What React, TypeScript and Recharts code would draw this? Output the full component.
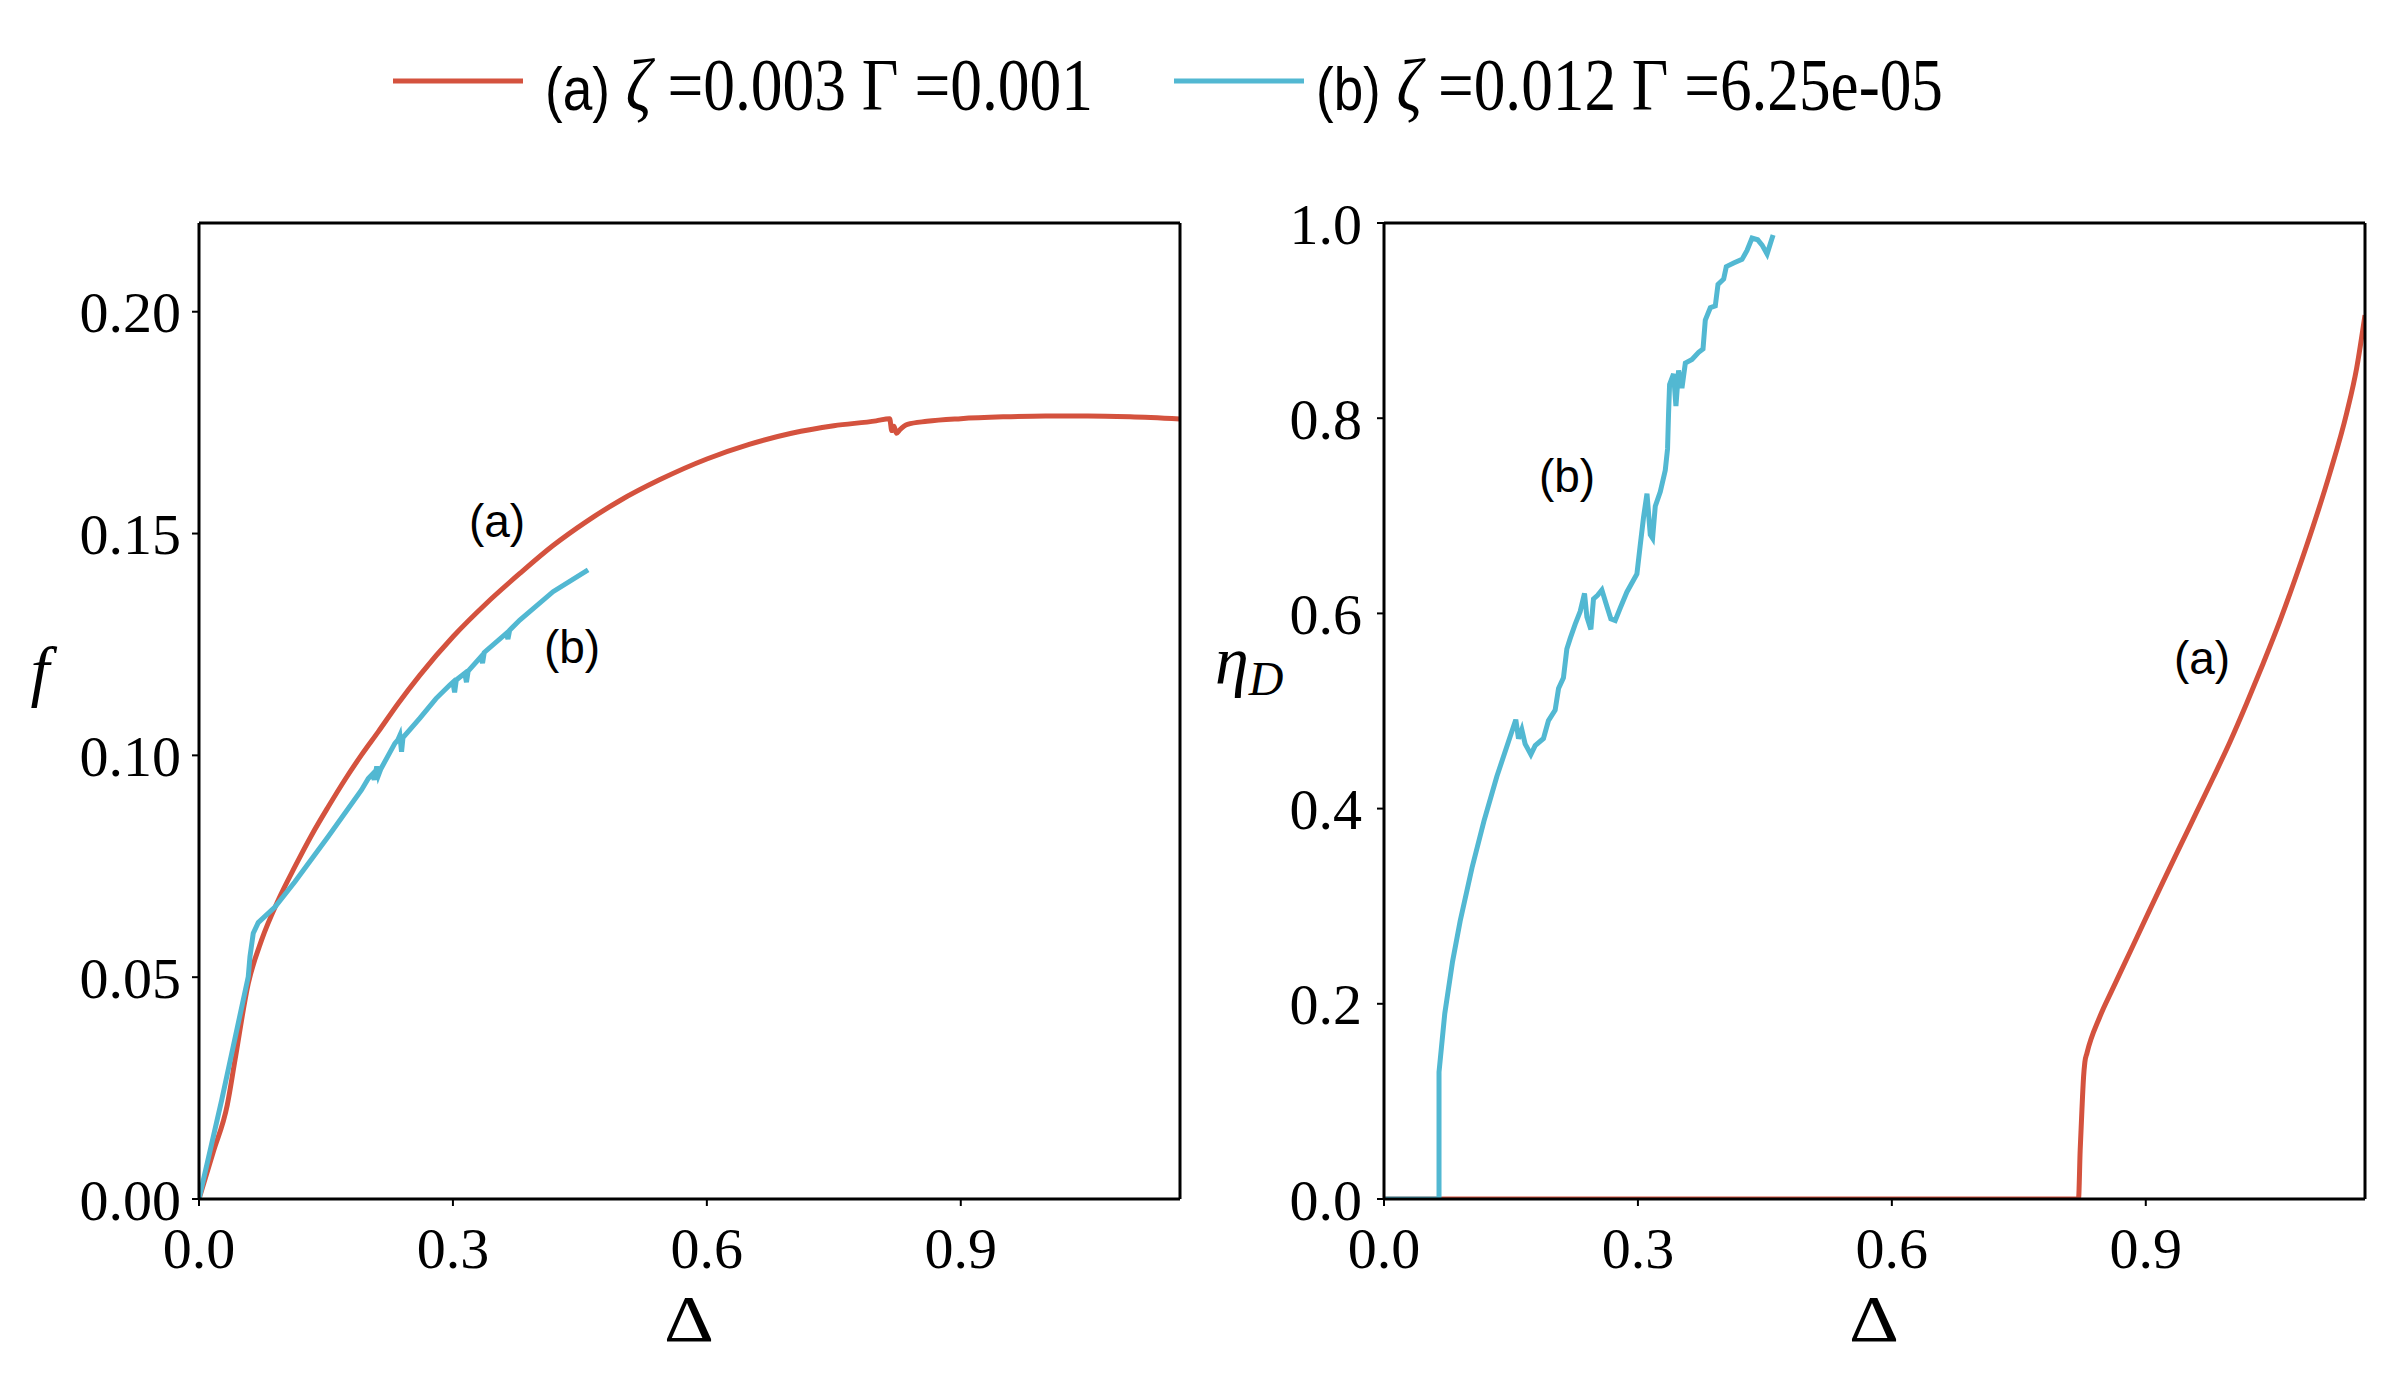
import React from "react";
import { LineChart, Line, XAxis, YAxis, ReferenceLine } from "recharts";

// ---- data ----
const xTicks = [0, 0.3, 0.6, 0.9];
const fTicks = [0, 0.05, 0.1, 0.15, 0.2];
const etaTicks = [0, 0.2, 0.4, 0.6, 0.8, 1.0];
const xMax = 1.159;

// left panel, curve (a)
const deltaAf = [0, 0.017, 0.0334, 0.0425, 0.0582, 0.074, 0.0937, 0.1133, 0.133, 0.1527, 0.1724, 0.192, 0.2117, 0.2353, 0.261, 0.3003, 0.3397, 0.379, 0.4183, 0.4577, 0.497, 0.544, 0.6, 0.65, 0.7, 0.75, 0.8, 0.816, 0.8185, 0.821, 0.824, 0.828, 0.837, 0.86, 0.9, 0.95, 1.0, 1.05, 1.1, 1.159];
const fA = [0, 0.0107, 0.0212, 0.0313, 0.0486, 0.0584, 0.0674, 0.0749, 0.082, 0.0884, 0.0945, 0.1001, 0.1053, 0.1117, 0.1181, 0.1268, 0.1343, 0.141, 0.1473, 0.1527, 0.1574, 0.1621, 0.1668, 0.1701, 0.1726, 0.1743, 0.1754, 0.1759, 0.1732, 0.1742, 0.1726, 0.1734, 0.1746, 0.1753, 0.1759, 0.1763, 0.1765, 0.1765, 0.1763, 0.1758];

// left panel, curve (b)
const deltaBf = [0, 0.0268, 0.0582, 0.0602, 0.0641, 0.07, 0.0897, 0.1133, 0.1527, 0.192, 0.2, 0.205, 0.207, 0.21, 0.212, 0.215, 0.2314, 0.235, 0.2373, 0.2393, 0.241, 0.261, 0.28, 0.296, 0.3, 0.302, 0.304, 0.314, 0.316, 0.318, 0.333, 0.335, 0.337, 0.363, 0.365, 0.367, 0.379, 0.4183, 0.4597];
const fB = [0, 0.0223, 0.0501, 0.0546, 0.0599, 0.0623, 0.0658, 0.0715, 0.0817, 0.0922, 0.0948, 0.0958, 0.0945, 0.0975, 0.0955, 0.097, 0.1027, 0.1035, 0.1045, 0.1008, 0.104, 0.1084, 0.1128, 0.1158, 0.1165, 0.1142, 0.117, 0.1185, 0.1165, 0.119, 0.1222, 0.1208, 0.1232, 0.1275, 0.1262, 0.1282, 0.1305, 0.1369, 0.1418];

// right panel, curve (a)
const deltaAeta = [0, 0.8205, 0.8225, 0.8245, 0.8265, 0.828, 0.8305, 0.8456, 0.8614, 0.8811, 0.9008, 0.9205, 0.9402, 0.96, 0.9796, 0.9993, 1.019, 1.0388, 1.0585, 1.0782, 1.0979, 1.1176, 1.1373, 1.1491, 1.159];
const etaA = [0, 0, 0.05, 0.09, 0.125, 0.14, 0.1495, 0.1865, 0.2163, 0.2526, 0.289, 0.3252, 0.3607, 0.3963, 0.4316, 0.468, 0.5074, 0.549, 0.5923, 0.6396, 0.6898, 0.744, 0.8051, 0.8511, 0.9056];

// right panel, curve (b)
const deltaBeta = [0, 0.065, 0.065, 0.0718, 0.081, 0.09, 0.104, 0.118, 0.1333, 0.1557, 0.1589, 0.1628, 0.1667, 0.1735, 0.1786, 0.1884, 0.1943, 0.2022, 0.2062, 0.212, 0.216, 0.22, 0.2259, 0.2318, 0.2369, 0.2397, 0.2444, 0.2475, 0.2523, 0.2574, 0.2633, 0.268, 0.2732, 0.2791, 0.287, 0.2988, 0.3027, 0.3067, 0.3107, 0.3146, 0.3173, 0.3205, 0.3264, 0.3323, 0.335, 0.3362, 0.3374, 0.3421, 0.3449, 0.348, 0.352, 0.356, 0.3639, 0.3717, 0.3769, 0.3796, 0.3855, 0.3914, 0.3946, 0.4013, 0.4044, 0.4131, 0.423, 0.4289, 0.4348, 0.4415, 0.4467, 0.4526, 0.4565, 0.4597];
const etaB = [0, 0, 0.13, 0.19, 0.2434, 0.2848, 0.3394, 0.387, 0.4329, 0.4911, 0.4718, 0.481, 0.4663, 0.4554, 0.4646, 0.4718, 0.4902, 0.5009, 0.523, 0.534, 0.5634, 0.5744, 0.589, 0.602, 0.6205, 0.5963, 0.5836, 0.6148, 0.6185, 0.624, 0.6073, 0.5945, 0.5928, 0.6055, 0.622, 0.6403, 0.6697, 0.6989, 0.7227, 0.6806, 0.677, 0.7098, 0.7245, 0.7467, 0.7685, 0.8051, 0.8345, 0.8454, 0.8124, 0.849, 0.8308, 0.8565, 0.8601, 0.8674, 0.871, 0.9005, 0.9132, 0.915, 0.937, 0.9426, 0.9553, 0.959, 0.9627, 0.9718, 0.9846, 0.9828, 0.9774, 0.9682, 0.979, 0.9877];

const RED = "#d4523e";
const BLUE = "#52b8d2";
const SERIF = "'Liberation Serif', 'DejaVu Serif', serif";
const SANS = "'Liberation Sans', Arial, sans-serif";

const toPoints = (xs: number[], ys: number[]) => xs.map((x, i) => ({ x, y: ys[i] }));

const tickStyle = { fill: "#000", fontSize: 58, fontFamily: SERIF };
const lineStyle = { stroke: "#000", strokeWidth: 3 };
const tickLineStyle = { stroke: "#000", strokeWidth: 2 };

interface PanelProps {
  left: number;
  margin: { top: number; right: number; bottom: number; left: number };
  yDomain: [number, number];
  yTicks: number[];
  yDigits: number;
  yTickMargin: number;
  red: { x: number; y: number }[];
  blue: { x: number; y: number }[];
}

function Panel({ left, margin, yDomain, yTicks, yDigits, yTickMargin, red, blue }: PanelProps) {
  return (
    <div style={{ position: "absolute", left, top: 0, width: 1200, height: 1379 }}>
      <LineChart width={1200} height={1379} margin={margin}>
        <XAxis
          dataKey="x"
          type="number"
          domain={[0, xMax]}
          ticks={xTicks}
          interval={0}
          allowDataOverflow
          tickFormatter={(v: number) => v.toFixed(1)}
          tick={tickStyle}
          tickSize={7}
          tickMargin={21}
          tickLine={tickLineStyle}
          axisLine={lineStyle}
          height={100}
        />
        <YAxis
          type="number"
          domain={yDomain}
          ticks={yTicks}
          interval={0}
          allowDataOverflow
          tickFormatter={(v: number) => v.toFixed(yDigits)}
          tick={tickStyle}
          tickSize={7}
          tickMargin={yTickMargin}
          tickLine={tickLineStyle}
          axisLine={lineStyle}
          width={150}
        />
        <Line data={red} dataKey="y" type="monotone" stroke={RED} strokeWidth={5} dot={false} isAnimationActive={false} />
        <Line data={blue} dataKey="y" type="linear" stroke={BLUE} strokeWidth={5} dot={false} isAnimationActive={false} />
        {/* top and right spines */}
        <ReferenceLine y={yDomain[1]} stroke="#000" strokeWidth={3} />
        <ReferenceLine x={xMax} stroke="#000" strokeWidth={3} />
      </LineChart>
    </div>
  );
}

export default function App() {
  return (
    <div style={{ position: "absolute", left: 0, top: 0, width: 2400, height: 1379, background: "#fff" }}>
      <Panel
        left={0}
        margin={{ top: 223, right: 20, bottom: 80, left: 49 }}
        yDomain={[0, 0.22]}
        yTicks={fTicks}
        yDigits={2}
        yTickMargin={11}
        red={toPoints(deltaAf, fA)}
        blue={toPoints(deltaBf, fB)}
      />
      <Panel
        left={1200}
        margin={{ top: 223, right: 35, bottom: 80, left: 34 }}
        yDomain={[0, 1]}
        yTicks={etaTicks}
        yDigits={1}
        yTickMargin={15}
        red={toPoints(deltaAeta, etaA)}
        blue={toPoints(deltaBeta, etaB)}
      />
      <svg width={2400} height={1379} style={{ position: "absolute", left: 0, top: 0, pointerEvents: "none" }}>
        {/* legend */}
        <line x1={393} x2={523} y1={81} y2={81} stroke={RED} strokeWidth={5} />
        <text x={545} y={110} fontFamily={SERIF} fontSize={74} textLength={548} lengthAdjust="spacingAndGlyphs">
          <tspan fontFamily={SANS} fontSize={62}>(a)</tspan> <tspan fontStyle="italic">ζ</tspan> =0.003 Γ =0.001
        </text>
        <line x1={1174} x2={1304} y1={81} y2={81} stroke={BLUE} strokeWidth={5} />
        <text x={1316} y={110} fontFamily={SERIF} fontSize={74} textLength={627} lengthAdjust="spacingAndGlyphs">
          <tspan fontFamily={SANS} fontSize={62}>(b)</tspan> <tspan fontStyle="italic">ζ</tspan> =0.012 Γ =6.25e-05
        </text>

        {/* axis titles */}
        <text x={664} y={1341} fontFamily={SERIF} fontSize={66} textLength={50} lengthAdjust="spacingAndGlyphs">Δ</text>
        <text x={1849} y={1341} fontFamily={SERIF} fontSize={66} textLength={50} lengthAdjust="spacingAndGlyphs">Δ</text>
        <text x={40} y={694} textAnchor="middle" fontFamily={SERIF} fontStyle="italic" fontSize={68}>f</text>
        <text x={1215} y={684} fontFamily={SERIF} fontStyle="italic" fontSize={68}>
          η<tspan fontSize={48} dy={11}>D</tspan>
        </text>

        {/* curve annotations */}
        <text x={497} y={537} textAnchor="middle" fontFamily={SANS} fontSize={46}>(a)</text>
        <text x={572} y={663} textAnchor="middle" fontFamily={SANS} fontSize={46}>(b)</text>
        <text x={1567} y={492} textAnchor="middle" fontFamily={SANS} fontSize={46}>(b)</text>
        <text x={2202} y={674} textAnchor="middle" fontFamily={SANS} fontSize={46}>(a)</text>
      </svg>
    </div>
  );
}
